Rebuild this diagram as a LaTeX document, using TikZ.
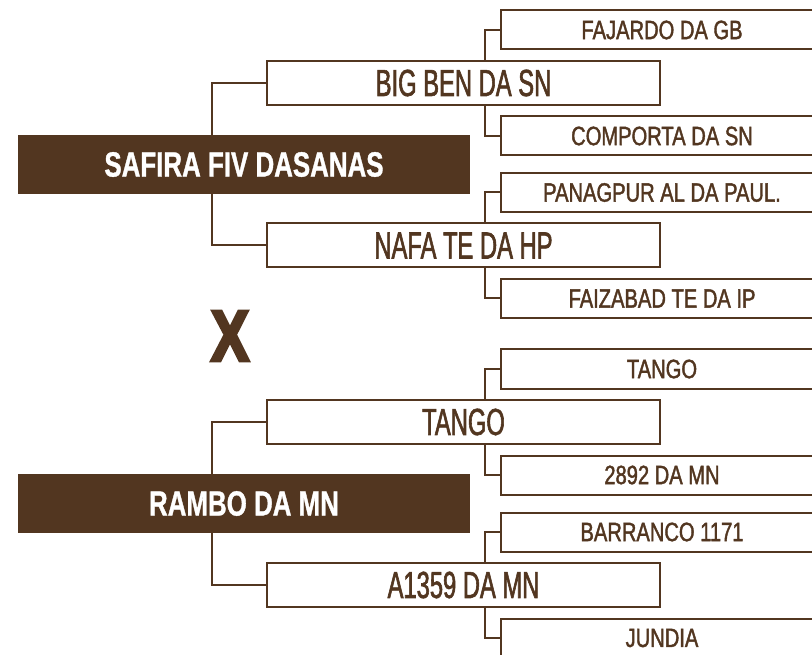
\documentclass[tikz,border=0pt]{standalone}
\usepackage{fontspec}
\setmainfont{Liberation Sans}
\newfontfamily\namefont{Liberation Sans}[FakeStretch=0.63,FakeBold=1.5]
\newfontfamily\smallnamefont{Liberation Sans}[FakeStretch=0.76,FakeBold=1.5]
\newfontfamily\sirefont{Liberation Sans}[FakeStretch=0.74,BoldFeatures={FakeBold=1}]
\newfontfamily\crossfont{Liberation Sans}[FakeStretch=0.79,BoldFeatures={FakeBold=4}]
\definecolor{bark}{RGB}{82,54,32}

\begin{document}
\begin{tikzpicture}[x=1pt,y=-1pt,
    rootbox/.style={fill=bark,text=white,inner sep=0,minimum width=452pt,minimum height=59pt,
        font=\sirefont\bfseries\fontsize{35}{35}\selectfont},
    parentbox/.style={draw=bark,line width=2pt,fill=white,text=bark,inner sep=0,minimum width=393pt,minimum height=44pt,
        font=\namefont\fontsize{37.7}{37.7}\selectfont},
    grandbox/.style={draw=bark,line width=2pt,fill=white,text=bark,inner sep=0,minimum width=322pt,minimum height=39pt,
        font=\smallnamefont\fontsize{26.5}{26.5}\selectfont},
    link/.style={draw=bark,line width=2pt}]
    \pgfmathsetmacro{\rootx}{244}
    \pgfmathsetmacro{\parentx}{463.5}
    \pgfmathsetmacro{\grandx}{662}
    \pgfmathsetmacro{\stemgap}{54}
    \pgfmathsetmacro{\twiggap}{15}
    \useasboundingbox (0,0) rectangle (812,655);
    % sire side
    \node[rootbox] (safira) at (\rootx,164.5) {SAFIRA FIV DASANAS};
    \node[parentbox] (bigben) at (\parentx,83) {BIG BEN DA SN};
    \node[parentbox] (nafa) at (\parentx,245.5) {NAFA TE DA HP};
    \node[grandbox] (fajardo) at (\grandx,30) {FAJARDO DA GB};
    \node[grandbox] (comporta) at (\grandx,136) {COMPORTA DA SN};
    \node[grandbox] (panagpur) at (\grandx,192.5) {PANAGPUR AL DA PAUL.};
    \node[grandbox] (faizabad) at (\grandx,298.5) {FAIZABAD TE DA IP};
    % cross
    \node[text=bark,inner sep=0,font=\crossfont\bfseries\fontsize{72.6}{72.6}\selectfont] (cross) at (230,336) {X};
    % dam side
    \node[rootbox] (rambo) at (\rootx,503.5) {RAMBO DA MN};
    \node[parentbox] (tangob) at (\parentx,422) {TANGO};
    \node[parentbox] (a1359) at (\parentx,585) {A1359 DA MN};
    \node[grandbox] (tangoc) at (\grandx,369) {TANGO};
    \node[grandbox] (dmn2892) at (\grandx,475) {2892 DA MN};
    \node[grandbox] (barranco) at (\grandx,532) {BARRANCO 1171};
    \node[grandbox] (jundia) at (\grandx,638) {JUNDIA};
    % links
    \foreach \kid/\dad in {bigben/safira,tangob/rambo}
        \draw[link] (\kid.west) -- ++(-\stemgap,0) coordinate (k) -- (k |- \dad.north);
    \foreach \kid/\dad in {nafa/safira,a1359/rambo}
        \draw[link] (\kid.west) -- ++(-\stemgap,0) coordinate (k) -- (k |- \dad.south);
    \foreach \kid/\dad in {fajardo/bigben,panagpur/nafa,tangoc/tangob,barranco/a1359}
        \draw[link] (\kid.west) -- ++(-\twiggap,0) coordinate (k) -- (k |- \dad.north);
    \foreach \kid/\dad in {comporta/bigben,faizabad/nafa,dmn2892/tangob,jundia/a1359}
        \draw[link] (\kid.west) -- ++(-\twiggap,0) coordinate (k) -- (k |- \dad.south);
\end{tikzpicture}
\end{document}
